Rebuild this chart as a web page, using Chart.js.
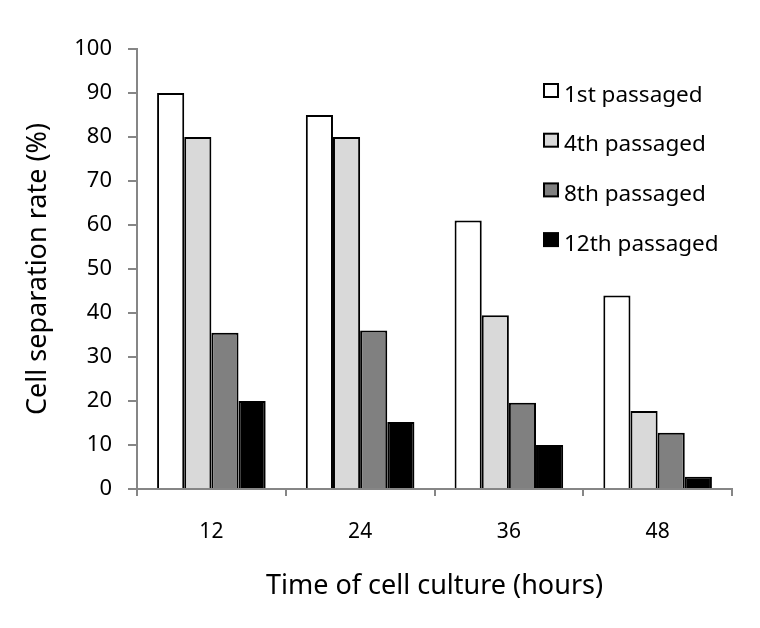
<!DOCTYPE html>
<html>
<head>
<meta charset="utf-8">
<script src="https://cdn.jsdelivr.net/npm/chart.js@4/dist/chart.umd.min.js"></script>
<style>
html,body{margin:0;padding:0;background:#fff;}
#wrap{width:760px;height:628px;}
</style>
</head>
<body>
<div id="wrap"><canvas id="c" width="760" height="628"></canvas></div>
<script>
const categories = ['12', '24', '36', '48'];
const seriesNames = ['1st passaged', '4th passaged', '8th passaged', '12th passaged'];
const passage1 = [90, 85, 61, 44];
const passage4 = [80, 80, 39.5, 17.7];
const passage8 = [35.5, 36, 19.6, 12.8];
const passage12 = [20, 15.2, 10, 2.8];
const yTicks = [0, 10, 20, 30, 40, 50, 60, 70, 80, 90, 100];

const fills = ['#ffffff', '#d9d9d9', '#808080', '#000000'];
const FONT = "'Noto Sans', sans-serif";
const AXIS = '#868686';

const legendPlugin = {
  id: 'customLegend',
  afterDraw(chart) {
    const ctx = chart.ctx;
    ctx.save();
    chart.data.datasets.forEach((ds, i) => {
      const bx = 544, by = 84 + i * 49.7;
      ctx.fillStyle = ds.backgroundColor;
      ctx.fillRect(bx, by, 14, 13);
      ctx.strokeStyle = '#000';
      ctx.lineWidth = 2;
      ctx.strokeRect(bx, by, 14, 13);
      ctx.fillStyle = '#000';
      ctx.font = '22.5px ' + FONT;
      ctx.textBaseline = 'alphabetic';
      ctx.textAlign = 'left';
      ctx.fillText(ds.label, 564, by + 17.5);
    });
    ctx.restore();
  }
};

const dataSets = [passage1, passage4, passage8, passage12].map((vals, i) => ({
  label: seriesNames[i],
  data: vals,
  backgroundColor: fills[i],
  borderColor: '#000000',
  borderWidth: 2,
  borderSkipped: 'bottom',
  categoryPercentage: 0.73,
  barPercentage: 1.0
}));

new Chart(document.getElementById('c'), {
  type: 'bar',
  data: { labels: categories, datasets: dataSets },
  options: {
    responsive: false,
    animation: false,
    devicePixelRatio: 1,
    layout: { padding: { top: 49, right: 28, left: 0, bottom: 0 } },
    plugins: { legend: { display: false }, tooltip: { enabled: false } },
    scales: {
      x: {
        type: 'category',
        offset: true,
        grid: { offset: true, drawOnChartArea: false, drawTicks: true, tickLength: 7, color: AXIS, lineWidth: 2 },
        border: { color: AXIS, width: 2 },
        ticks: { color: '#000', font: { family: FONT, size: 21 }, padding: 23 },
        title: { display: true, text: 'Time of cell culture (hours)', color: '#000', font: { family: FONT, size: 27 }, padding: { top: 0, bottom: 25 } },
        afterFit(scale) { scale.height = 139; }
      },
      y: {
        min: 0, max: 100,
        afterBuildTicks(scale) { scale.ticks = yTicks.map(v => ({ value: v })); },
        grid: { drawOnChartArea: false, drawTicks: true, tickLength: 9, color: AXIS, lineWidth: 2 },
        border: { color: AXIS, width: 2 },
        ticks: { color: '#000', font: { family: FONT, size: 22 }, padding: 16 },
        title: { display: true, text: 'Cell separation rate (%)', color: '#000', font: { family: FONT, size: 27 }, padding: { top: 22, bottom: 0 } },
        afterFit(scale) { scale.width = 137; }
      }
    }
  },
  plugins: [legendPlugin]
});
</script>
</body>
</html>
